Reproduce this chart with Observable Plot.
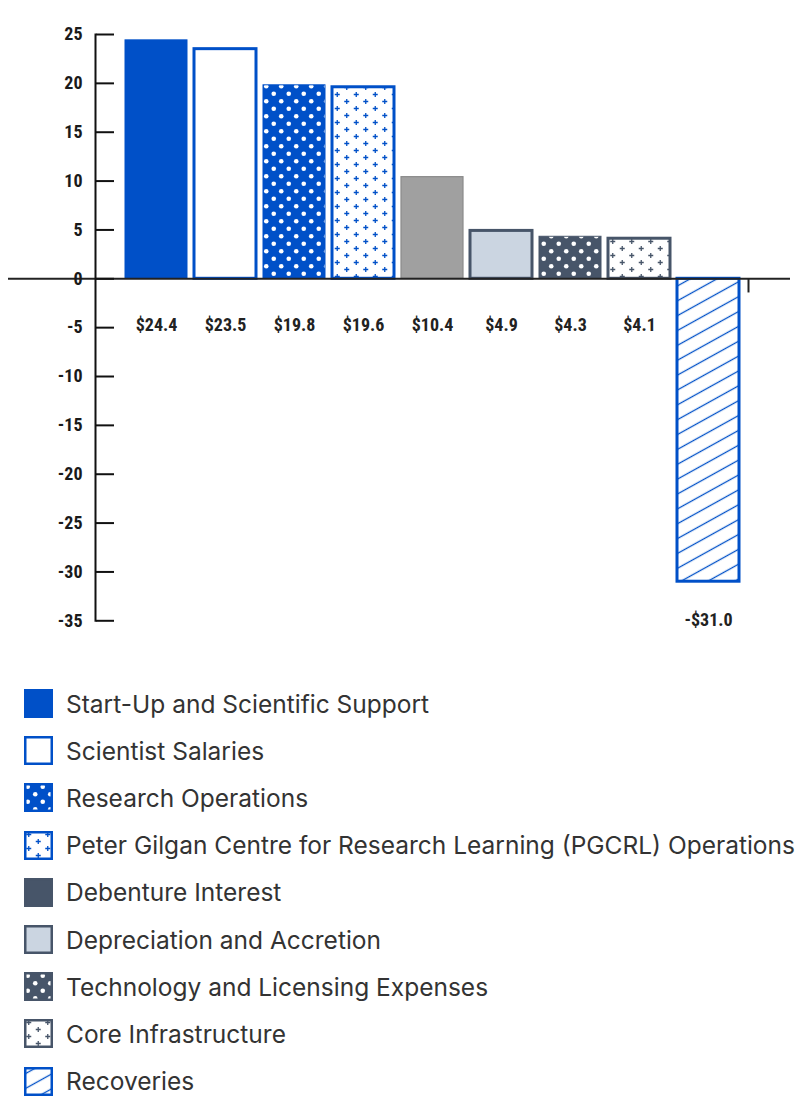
<!DOCTYPE html>
<html>
<head>
<meta charset="utf-8">
<script src="https://cdn.jsdelivr.net/npm/d3@7"></script>
<script src="https://cdn.jsdelivr.net/npm/@observablehq/plot@0.6"></script>
<style>
  body { margin: 0; background: #fff; }
  #chart svg { display: block; }
  #legend { padding-top: 20px; font-family: Inter, "Noto Sans", sans-serif; font-size: 24.5px; color: #333; }
  .item { display: flex; align-items: center; height: 47.2px; white-space: nowrap; }
  .item svg { margin-left: 24px; margin-right: 13px; flex: none; }
</style>
</head>
<body>
<svg width="0" height="0" style="position:absolute">
  <defs>
    <pattern id="dotsBlue" patternUnits="userSpaceOnUse" width="15" height="15">
      <rect width="15" height="15" fill="#0050c8"></rect>
      <circle cx="3.75" cy="3.75" r="2.3" fill="#fff"></circle>
      <circle cx="11.25" cy="11.25" r="2.3" fill="#fff"></circle>
    </pattern>
    <pattern id="dotsSlate" patternUnits="userSpaceOnUse" width="15" height="15">
      <rect width="15" height="15" fill="#475569"></rect>
      <circle cx="3.75" cy="3.75" r="2.3" fill="#fff"></circle>
      <circle cx="11.25" cy="11.25" r="2.3" fill="#fff"></circle>
    </pattern>
    <pattern id="plusBlue" patternUnits="userSpaceOnUse" width="19" height="14">
      <rect width="19" height="14" fill="#fff"></rect>
      <path d="M2.25,3.5h5M4.75,1v5M11.75,10.5h5M14.25,8v5" stroke="#0050c8" stroke-width="1.3"></path>
    </pattern>
    <pattern id="plusSlate" patternUnits="userSpaceOnUse" width="19" height="14">
      <rect width="19" height="14" fill="#fff"></rect>
      <path d="M2.25,3.5h5M4.75,1v5M11.75,10.5h5M14.25,8v5" stroke="#475569" stroke-width="1.3"></path>
    </pattern>
    <pattern id="hatch" patternUnits="userSpaceOnUse" width="10" height="13" patternTransform="rotate(-29)">
      <rect width="10" height="13" fill="#fff"></rect>
      <line x1="0" y1="6.5" x2="10" y2="6.5" stroke="#0050c8" stroke-width="1.3"></line>
    </pattern>
  </defs>
</svg>
<div id="chart"></div>
<div id="legend"></div>
<script>
// ---- data ----
const categories = [
  "Start-Up and Scientific Support",
  "Scientist Salaries",
  "Research Operations",
  "Peter Gilgan Centre for Research Learning (PGCRL) Operations",
  "Debenture Interest",
  "Depreciation and Accretion",
  "Technology and Licensing Expenses",
  "Core Infrastructure",
  "Recoveries"
];
const values = [24.4, 23.5, 19.8, 19.6, 10.4, 4.9, 4.3, 4.1, -31.0];
const valueLabels = ["$24.4", "$23.5", "$19.8", "$19.6", "$10.4", "$4.9", "$4.3", "$4.1", "-$31.0"];
const yTicks = [25, 20, 15, 10, 5, 0, -5, -10, -15, -20, -25, -30, -35];

// ---- styles ----
const BLUE = "#0050c8", SLATE = "#475569", LIGHT = "#cbd5e1", GRAY = "#a0a0a0";
const barFills   = [BLUE, "#ffffff", "url(#dotsBlue)", "url(#plusBlue)", GRAY, LIGHT, "url(#dotsSlate)", "url(#plusSlate)", "url(#hatch)"];
const barStrokes = [BLUE, BLUE, BLUE, BLUE, "#8a8a8a", SLATE, SLATE, SLATE, BLUE];
const barStrokeW = [1, 3, 1, 3, 1.2, 3, 1, 3, 3];
const legendFills = [BLUE, "#ffffff", "url(#dotsBlue)", "url(#plusBlue)", SLATE, LIGHT, "url(#dotsSlate)", "url(#plusSlate)", "url(#hatch)"];
const legendStrokes = [BLUE, BLUE, BLUE, BLUE, SLATE, SLATE, SLATE, SLATE, BLUE];

const data = categories.map((c, i) => ({
  category: c, value: values[i], label: valueLabels[i],
  fill: barFills[i], stroke: barStrokes[i], sw: barStrokeW[i]
}));

const numFont = "'Liberation Sans Narrow','Roboto Condensed','DejaVu Sans Condensed',sans-serif";

const plot = Plot.plot({
  width: 800,
  height: 660,
  marginTop: 34,
  marginBottom: 39.7,
  marginLeft: 95,
  marginRight: 30,
  style: { fontFamily: numFont, background: "transparent" },
  x: { domain: categories, paddingInner: 0.1, paddingOuter: 0.406, axis: null },
  y: { domain: [-35, 25], axis: null },
  color: { type: "identity" },
  marks: [
    Plot.barY(data, { x: "category", y: "value", fill: "fill", stroke: "stroke", strokeWidth: "sw" }),
    Plot.ruleY([0], { stroke: "#222", strokeWidth: 2, insetLeft: -87, insetRight: -20 }),
    Plot.ruleX([categories[categories.length - 1]], { x: d => d, y1: 0, y2: -1.45, dx: 40, stroke: "#222", strokeWidth: 2 }),
    Plot.frame({ anchor: "left", stroke: "#111", strokeWidth: 2 }),
    Plot.axisY({ anchor: "right", ticks: yTicks, tickSize: 18, tickFormat: () => "", label: null, dx: -675, strokeWidth: 2, stroke: "#111" }),
    Plot.axisY({ anchor: "left", ticks: yTicks, tickSize: 0, tickPadding: 13, tickFormat: d => String(d), label: null, fontSize: 18, fontWeight: "bold", fill: "#1a1a1a" }),
    Plot.text(data.filter(d => d.value >= 0), { x: "category", y: () => 0, text: "label", dy: 46.7, fontSize: 18, fontWeight: "bold", fill: "#222" }),
    Plot.text(data.filter(d => d.value < 0), { x: "category", y: "value", text: "label", dy: 39, fontSize: 18, fontWeight: "bold", fill: "#222" })
  ]
});
document.getElementById("chart").appendChild(plot);

// ---- legend ----
const legend = d3.select("#legend");
categories.forEach((c, i) => {
  const item = legend.append("div").attr("class", "item");
  const sw = item.append("svg").attr("width", 29).attr("height", 29);
  sw.append("rect").attr("x", 1.25).attr("y", 1.25).attr("width", 26.5).attr("height", 26.5)
    .attr("fill", legendFills[i]).attr("stroke", legendStrokes[i]).attr("stroke-width", 2.5);
  item.append("span").text(c);
});
</script>
</body>
</html>
